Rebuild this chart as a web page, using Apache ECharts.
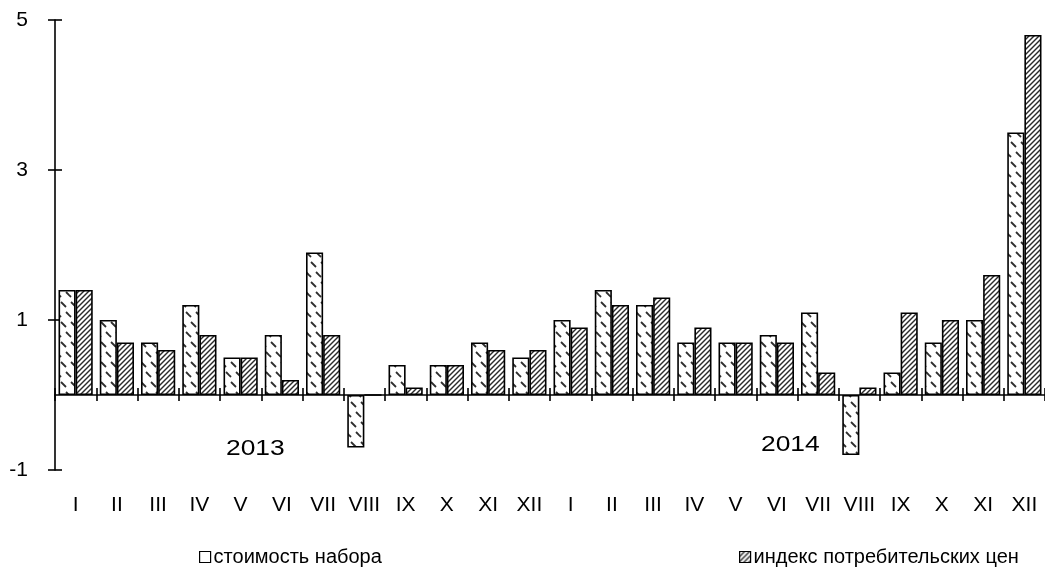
<!DOCTYPE html>
<html>
<head>
<meta charset="utf-8">
<script src="https://cdn.jsdelivr.net/npm/echarts@6/dist/echarts.min.js"></script>
<style>
html,body{margin:0;padding:0;background:#fff;}
#chart{width:1045px;height:569px;}
</style>
</head>
<body>
<div id="chart"></div>
<script>
const categories = ['I','II','III','IV','V','VI','VII','VIII','IX','X','XI','XII',
                    'I','II','III','IV','V','VI','VII','VIII','IX','X','XI','XII'];
const basketCost = [1.4,1.0,0.7,1.2,0.5,0.8,1.9,-0.7,0.4,0.4,0.7,0.5,
                    1.0,1.4,1.2,0.7,0.7,0.8,1.1,-0.8,0.3,0.7,1.0,3.5];
const cpi = [1.4,0.7,0.6,0.8,0.5,0.2,0.8,0.0,0.1,0.4,0.6,0.6,
             0.9,1.2,1.3,0.9,0.7,0.7,0.3,0.1,1.1,1.0,1.6,4.8];
const seriesNames = ['стоимость набора','индекс потребительских цен'];
const yearLabels = ['2013','2014'];
const yTicks = {min:-1, max:5, interval:2};

function patternDashed(){
  const c = document.createElement('canvas'); c.width = 10; c.height = 20;
  const g = c.getContext('2d');
  g.fillStyle = '#fff'; g.fillRect(0,0,10,20);
  g.strokeStyle = '#2e2e2e'; g.lineWidth = 1.8; g.lineCap = 'butt';
  const seg = (x1,y1,x2,y2)=>{g.beginPath();g.moveTo(x1,y1);g.lineTo(x2,y2);g.stroke();};
  seg(1,2,6,7);
  seg(6,12,11,17);
  seg(-4,12,1,17);
  return c;
}
function patternHatch(){
  const c = document.createElement('canvas'); c.width = 5; c.height = 5;
  const g = c.getContext('2d');
  g.fillStyle = '#fff'; g.fillRect(0,0,5,5);
  g.strokeStyle = '#2a2a2a'; g.lineWidth = 1.4;
  const seg = (x1,y1,x2,y2)=>{g.beginPath();g.moveTo(x1,y1);g.lineTo(x2,y2);g.stroke();};
  seg(-1,6,6,-1);
  seg(-1,1,1,-1);
  seg(4,6,6,4);
  return c;
}

const FONT = 'Liberation Sans, Arial, sans-serif';
const chart = echarts.init(document.getElementById('chart'), null, {renderer:'canvas'});
const p1 = {image: patternDashed(), repeat: 'repeat'};
const p2 = {image: patternHatch(), repeat: 'repeat'};

const option = {
  animation: false,
  backgroundColor: '#fff',
  grid: {left: 55, right: 0, top: 20, bottom: 99, containLabel: false},
  legend: [
    {left: 199, top: 547, padding: 0, itemWidth: 11, itemHeight: 11, icon: 'rect',
     data: [{name: seriesNames[0], itemStyle: {color: '#fff', borderColor: '#000', borderWidth: 1.2}}],
     textStyle: {fontFamily: FONT, fontSize: 20, color: '#000', padding: [0,0,0,-2]}},
    {left: 739, top: 547, padding: 0, itemWidth: 11, itemHeight: 11, icon: 'rect',
     data: [{name: seriesNames[1], itemStyle: {borderColor: '#000', borderWidth: 1.2}}],
     textStyle: {fontFamily: FONT, fontSize: 20, color: '#000', padding: [0,0,0,-2]}}
  ],
  xAxis: [
    {type: 'category', data: categories, position: 'bottom',
     axisLine: {show: true, onZero: true, lineStyle: {color: '#000', width: 1.6}},
     axisTick: {show: true, inside: false, length: 6, lineStyle: {color: '#000', width: 1.6}},
     axisLabel: {show: false}, splitLine: {show: false}},
    {type: 'category', data: categories, position: 'bottom',
     axisLine: {show: false, onZero: true},
     axisTick: {show: true, inside: true, length: 7, lineStyle: {color: '#000', width: 1.6}},
     axisLabel: {show: false}, splitLine: {show: false}},
    {type: 'category', data: categories, position: 'bottom',
     axisLine: {show: false, onZero: false},
     axisTick: {show: false},
     axisLabel: {show: true, margin: 25, interval: 0, fontFamily: FONT, fontSize: 21, color: '#000'},
     splitLine: {show: false}}
  ],
  yAxis: [
    {type: 'value', min: yTicks.min, max: yTicks.max, interval: yTicks.interval, position: 'left',
     axisLine: {show: true, onZero: false, lineStyle: {color: '#000', width: 1.6}},
     axisTick: {show: true, inside: false, length: 7, lineStyle: {color: '#000', width: 1.6}},
     axisLabel: {show: true, margin: 27, fontFamily: FONT, fontSize: 21, color: '#000'},
     splitLine: {show: false}},
    {type: 'value', min: yTicks.min, max: yTicks.max, interval: yTicks.interval, position: 'left',
     axisLine: {show: false, onZero: false},
     axisTick: {show: true, inside: true, length: 7, lineStyle: {color: '#000', width: 1.6}},
     axisLabel: {show: false}, splitLine: {show: false}}
  ],
  series: [
    {name: seriesNames[0], type: 'bar', xAxisIndex: 0, yAxisIndex: 0, data: basketCost,
     barGap: '0%', barCategoryGap: '17%',
     itemStyle: {color: p1, borderColor: '#000', borderWidth: 1.6}},
    {name: seriesNames[1], type: 'bar', xAxisIndex: 0, yAxisIndex: 0, data: cpi,
     barGap: '0%', barCategoryGap: '17%',
     itemStyle: {color: p2, borderColor: '#000', borderWidth: 1.6}}
  ],
  graphic: [
    {type: 'text', x: 226, y: 438, scaleX: 1.2, style: {text: yearLabels[0], font: '22px ' + FONT, fill: '#000'}},
    {type: 'text', x: 761, y: 434, scaleX: 1.2, style: {text: yearLabels[1], font: '22px ' + FONT, fill: '#000'}}
  ]
};
chart.setOption(option);
</script>
</body>
</html>
